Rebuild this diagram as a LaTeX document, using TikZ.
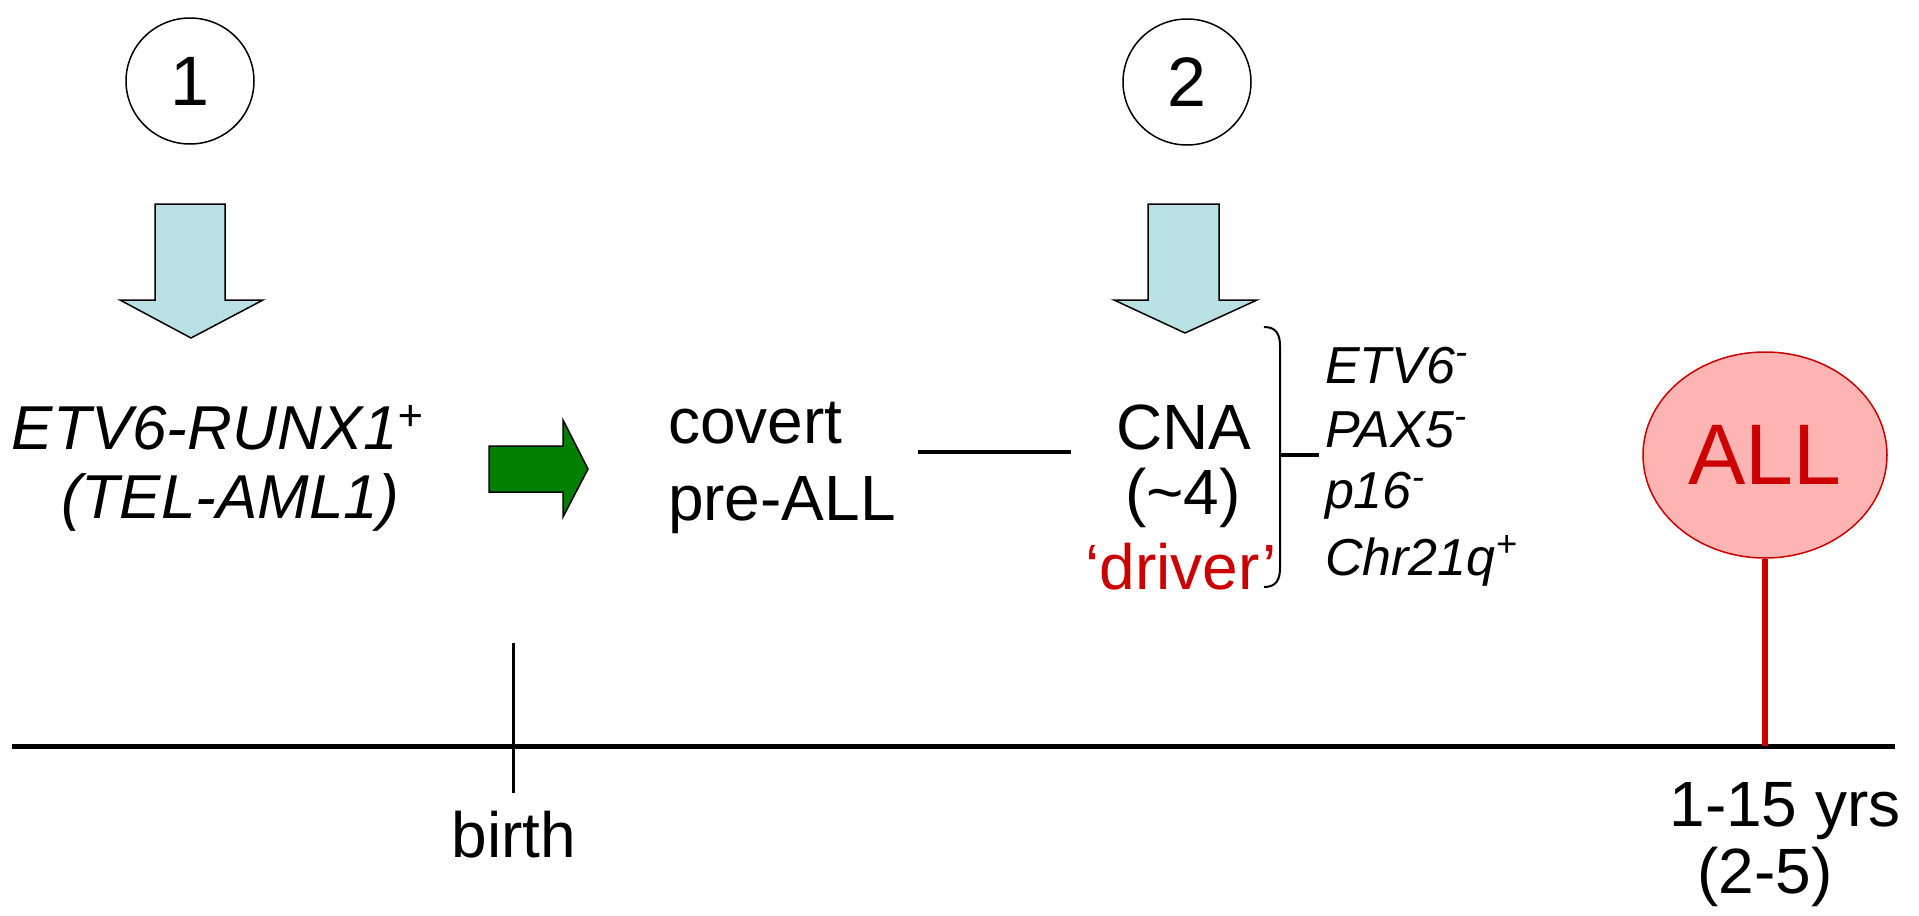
\documentclass[tikz,border=0pt]{standalone}
\usepackage{fontspec}
\setmainfont{Liberation Sans}
\usetikzlibrary{shapes.geometric}
\definecolor{lblue}{RGB}{185,225,228}
\definecolor{dgreen}{RGB}{0,128,0}
\definecolor{pinkfill}{RGB}{255,180,180}
\definecolor{dred}{RGB}{204,0,0}
\newcommand{\setfs}[1]{\fontsize{#1}{#1}\selectfont}
\begin{document}
\begin{tikzpicture}[x=0.5pt,y=-0.5pt,
  txt/.style={inner sep=0pt,outer sep=0pt},
  main/.style={txt,font=\setfs{32}},
  mainit/.style={txt,font=\itshape\setfs{31}},
  listit/.style={txt,anchor=base west,font=\itshape\setfs{26}},
  numcirc/.style={ellipse,draw,line width=0.75pt,minimum width=64pt,minimum height=63pt,inner sep=0pt,font=\setfs{35}},
  bluearrow/.style={draw,line width=0.75pt,fill=lblue,line join=miter},
  greenarrow/.style={draw,line width=0.75pt,fill=dgreen,line join=miter},
  allcirc/.style={ellipse,draw=dred,line width=0.75pt,fill=pinkfill,minimum width=122pt,minimum height=103pt,inner sep=0pt,text=dred,font=\setfs{43}}]
\useasboundingbox (0,0) rectangle (1919,916);

% numbered circles
\node[numcirc] (c1) at (190,81) {1};
\node[numcirc] (c2) at (1187,82) {2};

% blue down arrows
\draw[bluearrow] (155,204) -- (225,204) -- (225,300) -- (263,300) -- (191,338) -- (120,300) -- (155,300) -- cycle;
\draw[bluearrow] (1148,204) -- (1219,204) -- (1219,300) -- (1257,300) -- (1185,333) -- (1114,300) -- (1148,300) -- cycle;

% green right arrow
\draw[greenarrow] (489,446) -- (563,446) -- (563,420) -- (588,469) -- (563,517) -- (563,492) -- (489,492) -- cycle;

% first event
\node[mainit,anchor=base] (etv) at (218,449) {ETV6-RUNX1\textsuperscript{+}};
\node[mainit,anchor=base] (tel) at (230,518) {(TEL-AML1)};

% covert pre-ALL
\node[main,anchor=base west] (covert) at (668,443) {covert};
\node[main,anchor=base west] (preall) at (668,520) {pre-ALL};

% connector
\coordinate (la) at (918,452);
\coordinate (lb) at (1071,452);
\draw[line width=2pt] (la) -- (lb);

% CNA
\node[main,anchor=base] (cna) at (1184,449) {CNA};
\node[main,anchor=base] (cnanum) at (1183,514) {(\textasciitilde 4)};
\node[main,anchor=base,text=dred] (driver) at (1181,589) {‘driver’};

% bracket
\coordinate (bt) at (1264,327);
\coordinate (bb) at (1264,587);
\coordinate (bm) at (1280,455);
\coordinate (bx) at (1319,455);
\draw[line width=1pt] (bt) .. controls (1276,327) and (1280,334) .. (1280,346) -- (1280,568) .. controls (1280,580) and (1276,587) .. (bb);
\draw[line width=2pt] (bm) -- (bx);

% list
\node[listit] (g1) at (1325,383) {ETV6\textsuperscript{-}};
\node[listit] (g2) at (1325,447) {PAX5\textsuperscript{-}};
\node[listit] (g3) at (1325,508) {p16\textsuperscript{-}};
\node[listit] (g4) at (1325,575) {Chr21q\textsuperscript{+}};

% timeline
\coordinate (t0) at (12,746);
\coordinate (t1) at (1895,746);
\draw[line width=2.5pt] (t0) -- (t1);

% birth tick
\coordinate (bta) at (513,643);
\coordinate (btb) at (513,793);
\draw[line width=1.5pt] (bta) -- (btb);
\node[main,anchor=base] (birth) at (514,857) {birth};

% ALL
\node[allcirc] (all) at (1765,455) {ALL};
\draw[dred,line width=2.6pt] (all.south) -- (all.south |- t0);
\node[main,anchor=base] (yrs) at (1785,826) {1-15 yrs};
\node[main,anchor=base] (yrs2) at (1765,893) {(2-5)};
\end{tikzpicture}
\end{document}
